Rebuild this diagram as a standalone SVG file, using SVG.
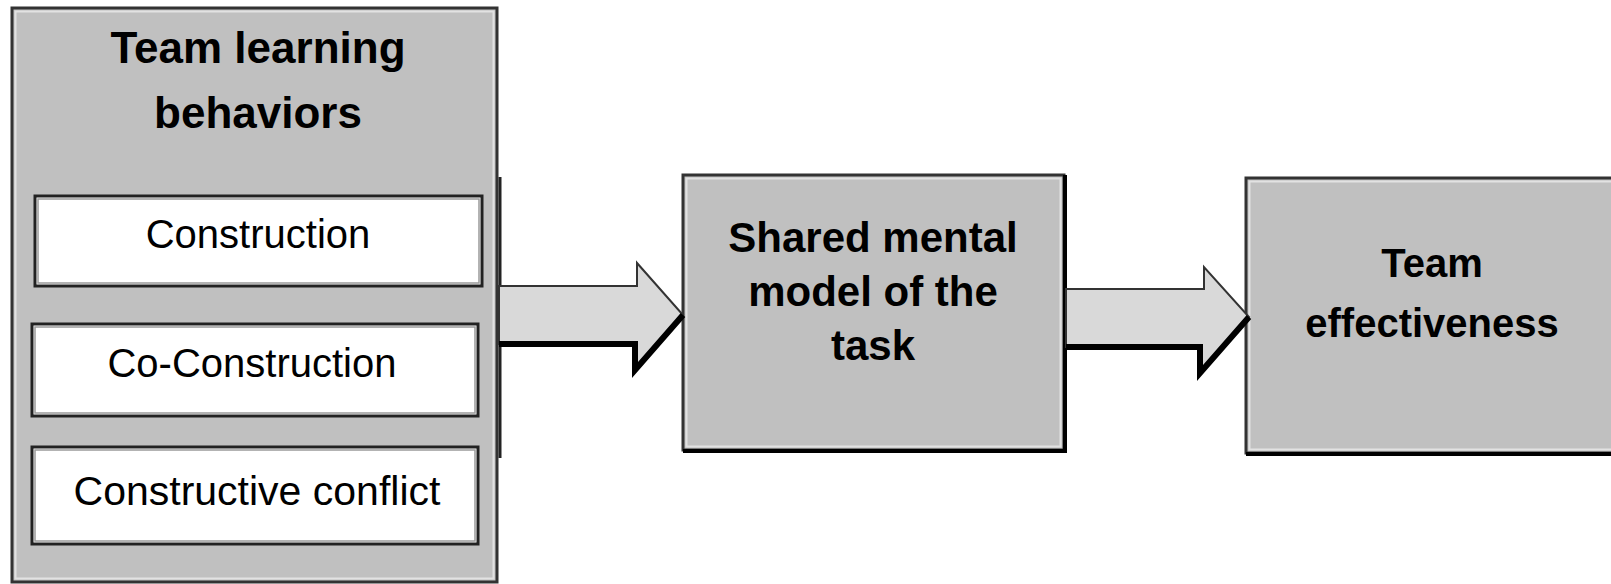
<svg xmlns="http://www.w3.org/2000/svg" width="1611" height="584" viewBox="0 0 1611 584">
<style>
.box{fill:#c0c0c0;stroke:#333;stroke-width:3}
.bevel{fill:none;stroke:#e2e2e2;stroke-width:2}
.inner{fill:#fff;stroke:#222;stroke-width:3}
.ibevel{fill:none;stroke:#9a9a9a;stroke-width:1.5}
.shadow{fill:none;stroke:#000;stroke-width:4}
.t{font-family:"Liberation Sans",Arial,sans-serif;text-anchor:middle;fill:#000}
.b{font-weight:bold}
.arr{fill:#d9d9d9;stroke:#333;stroke-width:2;stroke-linejoin:miter}
.ash{fill:none;stroke:#000;stroke-width:6;stroke-linejoin:miter}
</style>
<rect width="1611" height="584" fill="#fff"/>
<g id="team-learning">
<rect class="box" x="12" y="8" width="485" height="574"/>
<rect class="bevel" x="15.5" y="11.5" width="478" height="567"/>
<line x1="500" y1="177" x2="500" y2="458" stroke="#222" stroke-width="3"/>
<text class="t b" x="258" y="63" font-size="44">Team learning</text>
<text class="t b" x="258" y="128" font-size="44">behaviors</text>
</g>
<g id="construction">
<rect class="inner" x="35" y="196" width="447" height="90"/>
<rect class="ibevel" x="38" y="199" width="441" height="84"/>
<text class="t" x="258" y="248" font-size="40">Construction</text>
</g>
<g id="co-construction">
<rect class="inner" x="32" y="324" width="446" height="92"/>
<rect class="ibevel" x="35" y="327" width="440" height="86"/>
<text class="t" x="252" y="377" font-size="40">Co-Construction</text>
</g>
<g id="constructive-conflict">
<rect class="inner" x="32" y="447" width="446" height="97"/>
<rect class="ibevel" x="35" y="450" width="440" height="91"/>
<text class="t" x="257" y="505" font-size="41">Constructive conflict</text>
</g>
<g id="shared-mental-model">
<rect class="box" x="683" y="175" width="381" height="275"/>
<rect class="bevel" x="686.5" y="178.5" width="374" height="268"/>
<polyline class="shadow" points="683,451 1065,451 1065,175"/>
<text class="t b" x="873" y="252" font-size="42">Shared mental</text>
<text class="t b" x="873" y="306" font-size="42">model of the</text>
<text class="t b" x="873" y="360" font-size="42">task</text>
</g>
<g id="team-effectiveness">
<rect class="box" x="1246" y="178" width="380" height="275"/>
<rect class="bevel" x="1249.5" y="181.5" width="380" height="268"/>
<line class="shadow" x1="1246" y1="454" x2="1611" y2="454"/>
<text class="t b" x="1432" y="277" font-size="40">Team</text>
<text class="t b" x="1432" y="337" font-size="40">effectiveness</text>
</g>
<g id="connectors">
<polygon class="arr" points="499,286 637,286 637,263 683,315 635,370 635,344 499,344"/>
<polyline class="ash" points="499,344 635,344 635,370 683,315"/>
<polygon class="arr" points="1066,289 1204,289 1204,267 1249,317 1200,373 1200,347 1066,347"/>
<polyline class="ash" points="1066,347 1200,347 1200,373 1249,317"/>
</g>
</svg>
